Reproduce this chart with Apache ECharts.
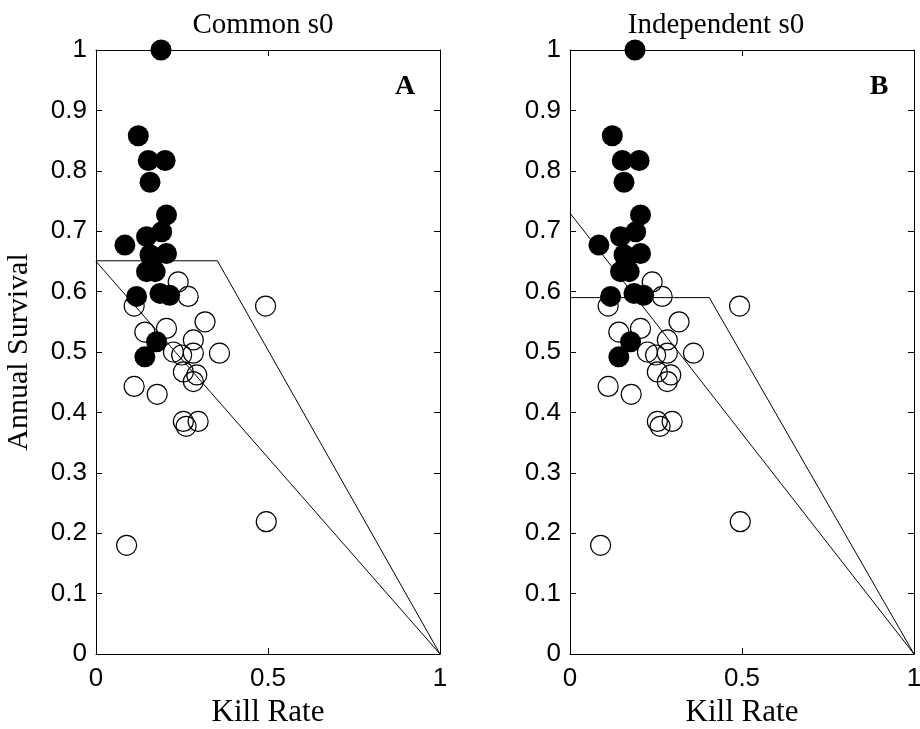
<!DOCTYPE html>
<html><head><meta charset="utf-8">
<script src="https://cdn.jsdelivr.net/npm/echarts@6/dist/echarts.min.js"></script>
<style>html,body{margin:0;padding:0;background:#fff}#c{width:920px;height:729px}</style>
</head><body><div id="c"></div>
<script>
// Packs above the survival ceiling (filled markers)
const filledKill = [0.189, 0.123, 0.152, 0.201, 0.157, 0.205, 0.191, 0.147, 0.084, 0.205, 0.157, 0.162, 0.147, 0.172, 0.186, 0.214, 0.118, 0.176, 0.142];
const filledSurv = [1.000, 0.858, 0.817, 0.817, 0.781, 0.727, 0.699, 0.691, 0.677, 0.663, 0.661, 0.644, 0.633, 0.633, 0.597, 0.594, 0.592, 0.517, 0.492];
// Remaining packs (open markers)
const openKill = [0.239, 0.268, 0.111, 0.493, 0.317, 0.142, 0.205, 0.283, 0.225, 0.249, 0.283, 0.359, 0.254, 0.293, 0.283, 0.111, 0.178, 0.254, 0.297, 0.262, 0.089, 0.495];
const openSurv = [0.616, 0.592, 0.576, 0.576, 0.550, 0.533, 0.539, 0.520, 0.500, 0.495, 0.498, 0.498, 0.467, 0.462, 0.451, 0.443, 0.430, 0.385, 0.385, 0.377, 0.180, 0.219];

// Model curves (kill rate, survival)
const commonCeiling = [[0, 0.651], [0.353, 0.651], [1, 0]];
const commonLinear = [[0, 0.650], [1, 0]];
const indepCeiling = [[0, 0.590], [0.405, 0.590], [1, 0]];
const indepLinear = [[0, 0.730], [1, 0]];

const panelTitles = ['Common s0', 'Independent s0'];
const panelTags = ['A', 'B'];
const xName = 'Kill Rate';
const yName = 'Annual Survival';

const filledPts = filledKill.map((x, i) => [x, filledSurv[i]]);
const openPts = openKill.map((x, i) => [x, openSurv[i]]);

const serif = 'Liberation Serif';
const sans = 'Liberation Sans';
const grids = [
  { left: 96, top: 50, width: 344, height: 604 },
  { left: 570, top: 50, width: 344, height: 604 }
];

const xAxes = [], yAxes = [];
grids.forEach((g, gi) => {
  const base = {
    type: 'value', gridIndex: gi, min: 0, max: 1, interval: 0.5,
    splitLine: { show: false },
    axisLine: { show: true, onZero: false, lineStyle: { color: '#000', width: 1 } },
    axisTick: { show: true, inside: true, length: 6, lineStyle: { color: '#000' } }
  };
  xAxes.push(Object.assign({}, base, {
    position: 'bottom',
    name: xName, nameLocation: 'middle', nameGap: 42,
    nameTextStyle: { fontFamily: serif, fontSize: 31, color: '#000' },
    axisLabel: { show: true, margin: 12, fontFamily: sans, fontSize: 26, color: '#000' }
  }));
  xAxes.push(Object.assign({}, base, { position: 'top', axisLabel: { show: false } }));
  const ybase = Object.assign({}, base, { interval: 0.1 });
  yAxes.push(Object.assign({}, ybase, {
    position: 'left',
    name: gi === 0 ? yName : '', nameLocation: 'middle', nameGap: 62,
    nameTextStyle: { fontFamily: serif, fontSize: 30, color: '#000' },
    axisLabel: { show: true, margin: 9, fontFamily: sans, fontSize: 26, color: '#000' }
  }));
  yAxes.push(Object.assign({}, ybase, { position: 'right', axisLabel: { show: false } }));
});

const curvesByPanel = [[commonCeiling, commonLinear], [indepCeiling, indepLinear]];
const series = [];
grids.forEach((g, gi) => {
  curvesByPanel[gi].forEach(c => {
    series.push({
      type: 'line', xAxisIndex: gi * 2, yAxisIndex: gi * 2, data: c,
      symbol: 'none', silent: true, z: 1,
      lineStyle: { color: '#000', width: 1 }
    });
  });
  series.push({
    type: 'scatter', xAxisIndex: gi * 2, yAxisIndex: gi * 2, data: openPts,
    symbol: 'circle', symbolSize: 20, z: 2,
    itemStyle: { color: 'rgba(0,0,0,0)', borderColor: '#000', borderWidth: 1.2, opacity: 1 }
  });
  series.push({
    type: 'scatter', xAxisIndex: gi * 2, yAxisIndex: gi * 2, data: filledPts,
    symbol: 'circle', symbolSize: 21, z: 3,
    itemStyle: { color: '#000', borderWidth: 0, opacity: 1 }
  });
});

const chart = echarts.init(document.getElementById('c'), null, { renderer: 'canvas' });
chart.setOption({
  animation: false,
  backgroundColor: '#fff',
  title: [
    { text: panelTitles[0], left: 258, top: 6, textAlign: 'center',
      textStyle: { fontFamily: serif, fontSize: 29, fontWeight: 'normal', color: '#000' } },
    { text: panelTitles[1], left: 711, top: 6, textAlign: 'center',
      textStyle: { fontFamily: serif, fontSize: 29, fontWeight: 'normal', color: '#000' } },
    { text: panelTags[0], left: 400, top: 68, textAlign: 'center',
      textStyle: { fontFamily: serif, fontSize: 28, fontWeight: 'bold', color: '#000' } },
    { text: panelTags[1], left: 874, top: 68, textAlign: 'center',
      textStyle: { fontFamily: serif, fontSize: 28, fontWeight: 'bold', color: '#000' } }
  ],
  grid: grids.map(g => Object.assign({ show: false, containLabel: false, outerBoundsMode: 'none' }, g)),
  xAxis: xAxes,
  yAxis: yAxes,
  series: series
});
</script>
</body></html>
